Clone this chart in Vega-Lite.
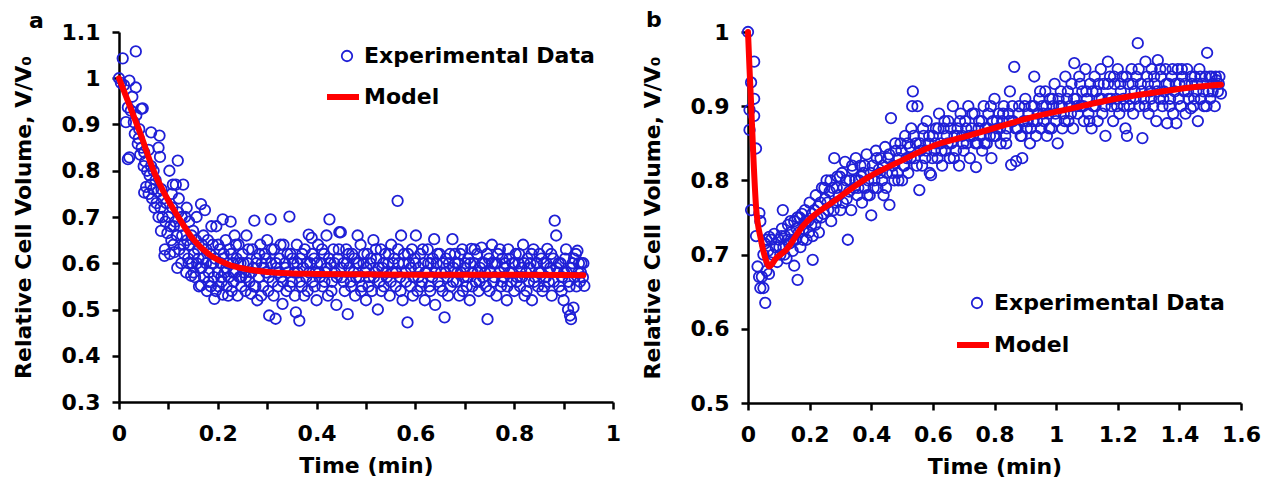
{
"$schema": "https://vega.github.io/schema/vega-lite/v6.json",
"padding": {"left": 12, "top": 9, "right": 0, "bottom": 0},
"background": "white",
"config": {
 "font": "DejaVu Sans",
 "view": {"stroke": null},
 "axis": {"domainColor": "black", "domainWidth": 2.5, "tickColor": "black", "tickWidth": 2.5, "tickSize": 7, "grid": false, "labelFont": "DejaVu Sans", "labelFontWeight": "bold", "labelFontSize": 22, "labelColor": "black", "titleFont": "DejaVu Sans", "titleFontWeight": "bold", "titleFontSize": 22, "titleColor": "black", "format": "~g", "labelFlush": false, "labelOverlap": false, "labelBound": false},
 "axisX": {"labelPadding": 14, "titlePadding": 11},
 "axisY": {"labelPadding": 12, "titlePadding": 26},
 "legend": {"orient": "none", "title": null, "labelFontSize": 22, "labelFontWeight": "bold", "labelColor": "black", "labelFont": "DejaVu Sans", "padding": 0, "labelLimit": 400},
 "title": {"fontSize": 22, "fontWeight": "bold", "font": "DejaVu Sans", "anchor": "start", "frame": "bounds", "color": "black"},
 "concat": {"spacing": 20}
},
"datasets": {
 "a": [
{"t":0,"v":1.0},{"t":0.004,"v":0.99},{"t":0.0075,"v":1.043},{"t":0.01,"v":0.985},{"t":0.014,"v":0.905},{"t":0.018,"v":0.937},{"t":0.018,"v":0.825},{"t":0.021,"v":0.995},{"t":0.021,"v":0.829},{"t":0.024,"v":0.93},{"t":0.027,"v":0.96},{"t":0.03,"v":0.905},{"t":0.032,"v":0.88},{"t":0.034,"v":1.058},{"t":0.034,"v":0.98},{"t":0.035,"v":0.92},{"t":0.038,"v":0.858},{"t":0.04,"v":0.87},{"t":0.041,"v":0.89},{"t":0.043,"v":0.835},{"t":0.045,"v":0.934},{"t":0.046,"v":0.85},{"t":0.048,"v":0.935},{"t":0.05,"v":0.81},{"t":0.051,"v":0.84},{"t":0.051,"v":0.753},{"t":0.053,"v":0.82},{"t":0.055,"v":0.765},{"t":0.057,"v":0.8},{"t":0.06,"v":0.75},{"t":0.06,"v":0.845},{"t":0.062,"v":0.79},{"t":0.064,"v":0.77},{"t":0.065,"v":0.883},{"t":0.065,"v":0.81},{"t":0.067,"v":0.74},{"t":0.069,"v":0.76},{"t":0.07,"v":0.8},{"t":0.072,"v":0.72},{"t":0.074,"v":0.78},{"t":0.076,"v":0.73},{"t":0.078,"v":0.755},{"t":0.08,"v":0.85},{"t":0.08,"v":0.7},{"t":0.082,"v":0.876},{"t":0.083,"v":0.83},{"t":0.084,"v":0.72},{"t":0.085,"v":0.67},{"t":0.086,"v":0.76},{"t":0.088,"v":0.7},{"t":0.09,"v":0.74},{"t":0.092,"v":0.616},{"t":0.093,"v":0.63},{"t":0.094,"v":0.69},{"t":0.096,"v":0.73},{"t":0.098,"v":0.665},{"t":0.1,"v":0.7},{"t":0.102,"v":0.8},{"t":0.104,"v":0.68},{"t":0.106,"v":0.65},{"t":0.108,"v":0.72},{"t":0.109,"v":0.77},{"t":0.11,"v":0.64},{"t":0.112,"v":0.624},{"t":0.114,"v":0.69},{"t":0.115,"v":0.77},{"t":0.117,"v":0.66},{"t":0.119,"v":0.822},{"t":0.12,"v":0.71},{"t":0.122,"v":0.63},{"t":0.124,"v":0.68},{"t":0.126,"v":0.6},{"t":0.128,"v":0.66},{"t":0.13,"v":0.77},{"t":0.132,"v":0.62},{"t":0.134,"v":0.7},{"t":0.136,"v":0.58},{"t":0.138,"v":0.65},{"t":0.14,"v":0.61},{"t":0.142,"v":0.69},{"t":0.144,"v":0.64},{"t":0.146,"v":0.573},{"t":0.148,"v":0.6},{"t":0.15,"v":0.67},{"t":0.152,"v":0.62},{"t":0.154,"v":0.57},{"t":0.156,"v":0.65},{"t":0.158,"v":0.6},{"t":0.16,"v":0.63},{"t":0.162,"v":0.55},{"t":0.164,"v":0.59},{"t":0.166,"v":0.728},{"t":0.166,"v":0.552},{"t":0.168,"v":0.64},{"t":0.17,"v":0.61},{"t":0.172,"v":0.57},{"t":0.174,"v":0.715},{"t":0.176,"v":0.6},{"t":0.178,"v":0.54},{"t":0.18,"v":0.65},{"t":0.182,"v":0.58},{"t":0.184,"v":0.62},{"t":0.186,"v":0.55},{"t":0.188,"v":0.6},{"t":0.19,"v":0.64},{"t":0.192,"v":0.57},{"t":0.193,"v":0.523},{"t":0.195,"v":0.61},{"t":0.197,"v":0.68},{"t":0.2,"v":0.58},{"t":0.202,"v":0.55},{"t":0.204,"v":0.63},{"t":0.206,"v":0.6},{"t":0.208,"v":0.56},{"t":0.21,"v":0.695},{"t":0.21,"v":0.532},{"t":0.212,"v":0.62},{"t":0.214,"v":0.58},{"t":0.216,"v":0.65},{"t":0.218,"v":0.55},{"t":0.22,"v":0.6},{"t":0.222,"v":0.57},{"t":0.224,"v":0.63},{"t":0.226,"v":0.69},{"t":0.228,"v":0.54},{"t":0.23,"v":0.6},{"t":0.232,"v":0.56},{"t":0.234,"v":0.66},{"t":0.236,"v":0.58},{"t":0.238,"v":0.61},{"t":0.24,"v":0.53},{"t":0.242,"v":0.64},{"t":0.244,"v":0.57},{"t":0.246,"v":0.6},{"t":0.248,"v":0.55},
{"t":0.25,"v":0.62},{"t":0.253,"v":0.58},{"t":0.256,"v":0.54},{"t":0.258,"v":0.66},{"t":0.261,"v":0.6},{"t":0.264,"v":0.56},{"t":0.267,"v":0.534},{"t":0.27,"v":0.63},{"t":0.272,"v":0.59},{"t":0.274,"v":0.692},{"t":0.276,"v":0.55},{"t":0.279,"v":0.61},{"t":0.28,"v":0.52},{"t":0.283,"v":0.57},{"t":0.286,"v":0.64},{"t":0.289,"v":0.6},{"t":0.292,"v":0.55},{"t":0.295,"v":0.62},{"t":0.298,"v":0.58},{"t":0.3,"v":0.65},{"t":0.302,"v":0.54},{"t":0.304,"v":0.487},{"t":0.307,"v":0.695},{"t":0.308,"v":0.6},{"t":0.311,"v":0.56},{"t":0.314,"v":0.63},{"t":0.317,"v":0.48},{"t":0.319,"v":0.59},{"t":0.322,"v":0.55},{"t":0.325,"v":0.61},{"t":0.328,"v":0.57},{"t":0.331,"v":0.512},{"t":0.333,"v":0.64},{"t":0.336,"v":0.6},{"t":0.339,"v":0.54},{"t":0.342,"v":0.58},{"t":0.345,"v":0.701},{"t":0.347,"v":0.62},{"t":0.35,"v":0.56},{"t":0.353,"v":0.6},{"t":0.356,"v":0.53},{"t":0.358,"v":0.494},{"t":0.36,"v":0.64},{"t":0.362,"v":0.58},{"t":0.365,"v":0.476},{"t":0.367,"v":0.61},{"t":0.37,"v":0.55},{"t":0.373,"v":0.59},{"t":0.376,"v":0.63},{"t":0.379,"v":0.57},{"t":0.382,"v":0.54},{"t":0.384,"v":0.662},{"t":0.387,"v":0.6},{"t":0.39,"v":0.655},{"t":0.392,"v":0.56},{"t":0.395,"v":0.61},{"t":0.398,"v":0.58},{"t":0.4,"v":0.52},{"t":0.403,"v":0.64},{"t":0.406,"v":0.57},{"t":0.409,"v":0.6},{"t":0.412,"v":0.55},{"t":0.415,"v":0.62},{"t":0.418,"v":0.58},{"t":0.42,"v":0.66},{"t":0.423,"v":0.53},{"t":0.426,"v":0.695},{"t":0.428,"v":0.6},{"t":0.431,"v":0.56},{"t":0.434,"v":0.63},{"t":0.437,"v":0.58},{"t":0.44,"v":0.51},{"t":0.443,"v":0.61},{"t":0.446,"v":0.667},{"t":0.449,"v":0.667},{"t":0.451,"v":0.57},{"t":0.454,"v":0.6},{"t":0.457,"v":0.54},{"t":0.46,"v":0.63},{"t":0.463,"v":0.49},{"t":0.466,"v":0.59},{"t":0.469,"v":0.56},{"t":0.472,"v":0.62},{"t":0.475,"v":0.58},{"t":0.478,"v":0.53},{"t":0.481,"v":0.6},{"t":0.483,"v":0.66},{"t":0.486,"v":0.57},{"t":0.489,"v":0.64},{"t":0.492,"v":0.55},{"t":0.495,"v":0.6},{"t":0.498,"v":0.58},{"t":0.5,"v":0.52},{"t":0.503,"v":0.62},{"t":0.506,"v":0.57},{"t":0.509,"v":0.6},{"t":0.512,"v":0.54},{"t":0.515,"v":0.65},{"t":0.518,"v":0.58},{"t":0.521,"v":0.61},{"t":0.524,"v":0.5},{"t":0.527,"v":0.56},{"t":0.53,"v":0.63},{"t":0.533,"v":0.59},{"t":0.536,"v":0.55},{"t":0.539,"v":0.62},{"t":0.542,"v":0.57},{"t":0.545,"v":0.6},{"t":0.548,"v":0.53},{"t":0.551,"v":0.64},{"t":0.554,"v":0.58},{"t":0.557,"v":0.61},{"t":0.56,"v":0.55},{"t":0.564,"v":0.735},{"t":0.566,"v":0.6},{"t":0.569,"v":0.57},{"t":0.571,"v":0.66},{"t":0.574,"v":0.52},{"t":0.577,"v":0.62},{"t":0.58,"v":0.58},{"t":0.584,"v":0.472},{"t":0.587,"v":0.6},{"t":0.59,"v":0.55},{"t":0.593,"v":0.63},{"t":0.596,"v":0.57},{"t":0.599,"v":0.61},{"t":0.601,"v":0.66},{"t":0.604,"v":0.54},{"t":0.607,"v":0.59},{"t":0.61,"v":0.62},{"t":0.613,"v":0.56},{"t":0.616,"v":0.6},{"t":0.619,"v":0.52},{"t":0.622,"v":0.58},{"t":0.625,"v":0.63},{"t":0.628,"v":0.55},{"t":0.631,"v":0.6},{"t":0.634,"v":0.57},{"t":0.638,"v":0.652},{"t":0.64,"v":0.51},{"t":0.643,"v":0.6},{"t":0.646,"v":0.56},{"t":0.649,"v":0.62},{"t":0.652,"v":0.58},{"t":0.655,"v":0.54},{"t":0.659,"v":0.483},{"t":0.662,"v":0.61},{"t":0.665,"v":0.57},{"t":0.668,"v":0.6},{"t":0.671,"v":0.55},{"t":0.675,"v":0.652},{"t":0.677,"v":0.59},{"t":0.68,"v":0.62},{"t":0.683,"v":0.56},{"t":0.686,"v":0.6},{"t":0.689,"v":0.53},{"t":0.692,"v":0.58},{"t":0.695,"v":0.63},{"t":0.698,"v":0.57},{"t":0.701,"v":0.6},{"t":0.704,"v":0.55},{"t":0.707,"v":0.61},{"t":0.71,"v":0.52},{"t":0.713,"v":0.631},{"t":0.716,"v":0.58},{"t":0.719,"v":0.6},{"t":0.722,"v":0.56},{"t":0.725,"v":0.62},{"t":0.728,"v":0.54},{"t":0.731,"v":0.59},{"t":0.734,"v":0.634},{"t":0.737,"v":0.57},{"t":0.74,"v":0.6},{"t":0.743,"v":0.55},{"t":0.746,"v":0.479},{"t":0.749,"v":0.61},{"t":0.752,"v":0.58},{"t":0.755,"v":0.64},{"t":0.758,"v":0.56},{"t":0.761,"v":0.6},{"t":0.764,"v":0.53},{"t":0.767,"v":0.62},{"t":0.77,"v":0.58},{"t":0.773,"v":0.55},{"t":0.776,"v":0.61},{"t":0.779,"v":0.57},{"t":0.782,"v":0.6},{"t":0.785,"v":0.52},{"t":0.788,"v":0.63},{"t":0.791,"v":0.58},{"t":0.794,"v":0.56},{"t":0.797,"v":0.6},{"t":0.8,"v":0.54},{"t":0.803,"v":0.62},{"t":0.806,"v":0.57},{"t":0.809,"v":0.6},{"t":0.812,"v":0.55},{"t":0.815,"v":0.59},{"t":0.818,"v":0.64},{"t":0.821,"v":0.53},{"t":0.824,"v":0.58},{"t":0.827,"v":0.61},{"t":0.83,"v":0.56},{"t":0.833,"v":0.6},{"t":0.836,"v":0.52},{"t":0.839,"v":0.63},{"t":0.842,"v":0.57},{"t":0.845,"v":0.6},{"t":0.848,"v":0.55},{"t":0.851,"v":0.62},{"t":0.854,"v":0.58},{"t":0.857,"v":0.54},{"t":0.86,"v":0.6},{"t":0.864,"v":0.57},{"t":0.867,"v":0.631},{"t":0.87,"v":0.56},{"t":0.873,"v":0.59},{"t":0.876,"v":0.53},{"t":0.879,"v":0.61},{"t":0.882,"v":0.692},{"t":0.885,"v":0.66},{"t":0.888,"v":0.58},{"t":0.891,"v":0.55},{"t":0.894,"v":0.6},{"t":0.897,"v":0.57},{"t":0.9,"v":0.52},{"t":0.903,"v":0.61},{"t":0.906,"v":0.58},{"t":0.909,"v":0.5},{"t":0.912,"v":0.55},{"t":0.913,"v":0.487},{"t":0.915,"v":0.479},{"t":0.918,"v":0.6},{"t":0.92,"v":0.504},{"t":0.922,"v":0.57},{"t":0.925,"v":0.62},{"t":0.928,"v":0.627},{"t":0.93,"v":0.58},{"t":0.933,"v":0.56},{"t":0.936,"v":0.6},{"t":0.939,"v":0.57},{"t":0.942,"v":0.551},
{"t":0.103,"v":0.62},{"t":0.107,"v":0.75},{"t":0.111,"v":0.68},{"t":0.118,"v":0.59},{"t":0.121,"v":0.74},{"t":0.127,"v":0.7},{"t":0.131,"v":0.64},{"t":0.137,"v":0.72},{"t":0.141,"v":0.6},{"t":0.147,"v":0.66},{"t":0.151,"v":0.58},{"t":0.157,"v":0.7},{"t":0.161,"v":0.61},{"t":0.167,"v":0.59},{"t":0.171,"v":0.66},{"t":0.177,"v":0.63},{"t":0.181,"v":0.56},{"t":0.187,"v":0.68},{"t":0.191,"v":0.6},{"t":0.196,"v":0.54},{"t":0.201,"v":0.64},{"t":0.207,"v":0.57},{"t":0.211,"v":0.61},{"t":0.217,"v":0.59},{"t":0.221,"v":0.53},{"t":0.227,"v":0.62},{"t":0.231,"v":0.58},{"t":0.237,"v":0.64},{"t":0.241,"v":0.6},{"t":0.247,"v":0.57},{"t":0.252,"v":0.6},{"t":0.257,"v":0.57},{"t":0.262,"v":0.63},{"t":0.268,"v":0.58},{"t":0.273,"v":0.55},{"t":0.278,"v":0.6},{"t":0.284,"v":0.62},{"t":0.288,"v":0.53},{"t":0.293,"v":0.59},{"t":0.297,"v":0.61},{"t":0.303,"v":0.57},{"t":0.309,"v":0.63},{"t":0.313,"v":0.53},{"t":0.318,"v":0.6},{"t":0.323,"v":0.58},{"t":0.327,"v":0.64},{"t":0.332,"v":0.56},{"t":0.337,"v":0.59},{"t":0.341,"v":0.62},{"t":0.346,"v":0.55},{"t":0.351,"v":0.61},{"t":0.355,"v":0.58},{"t":0.361,"v":0.6},{"t":0.366,"v":0.56},{"t":0.371,"v":0.62},{"t":0.375,"v":0.53},{"t":0.38,"v":0.6},{"t":0.385,"v":0.58},{"t":0.391,"v":0.62},{"t":0.396,"v":0.55},{"t":0.401,"v":0.6},{"t":0.405,"v":0.58},{"t":0.411,"v":0.63},{"t":0.416,"v":0.56},{"t":0.421,"v":0.59},{"t":0.425,"v":0.61},{"t":0.43,"v":0.54},{"t":0.436,"v":0.6},{"t":0.441,"v":0.57},{"t":0.445,"v":0.63},{"t":0.45,"v":0.59},{"t":0.455,"v":0.56},{"t":0.461,"v":0.6},{"t":0.465,"v":0.62},{"t":0.47,"v":0.55},{"t":0.476,"v":0.61},{"t":0.48,"v":0.57},{"t":0.485,"v":0.6},{"t":0.49,"v":0.54},{"t":0.496,"v":0.62},{"t":0.501,"v":0.59},{"t":0.505,"v":0.55},{"t":0.51,"v":0.61},{"t":0.516,"v":0.57},{"t":0.52,"v":0.63},{"t":0.525,"v":0.59},{"t":0.531,"v":0.54},{"t":0.535,"v":0.6},{"t":0.54,"v":0.58},{"t":0.546,"v":0.62},{"t":0.55,"v":0.56},{"t":0.555,"v":0.6},{"t":0.561,"v":0.58},{"t":0.565,"v":0.63},{"t":0.57,"v":0.54},{"t":0.576,"v":0.6},{"t":0.581,"v":0.56},{"t":0.585,"v":0.62},{"t":0.591,"v":0.59},{"t":0.595,"v":0.53},{"t":0.6,"v":0.6},{"t":0.606,"v":0.57},{"t":0.611,"v":0.55},{"t":0.615,"v":0.63},{"t":0.62,"v":0.58},{"t":0.626,"v":0.6},{"t":0.63,"v":0.54},{"t":0.635,"v":0.61},{"t":0.641,"v":0.58},{"t":0.645,"v":0.62},{"t":0.65,"v":0.55},{"t":0.656,"v":0.6},{"t":0.661,"v":0.58},{"t":0.666,"v":0.53},{"t":0.67,"v":0.62},{"t":0.676,"v":0.56},{"t":0.681,"v":0.6},{"t":0.685,"v":0.58},{"t":0.691,"v":0.62},{"t":0.696,"v":0.54},{"t":0.7,"v":0.59},{"t":0.706,"v":0.57},{"t":0.711,"v":0.6},{"t":0.715,"v":0.55},{"t":0.72,"v":0.63},{"t":0.726,"v":0.58},{"t":0.73,"v":0.56},{"t":0.735,"v":0.6},{"t":0.741,"v":0.58},{"t":0.745,"v":0.62},{"t":0.75,"v":0.54},{"t":0.756,"v":0.6},{"t":0.76,"v":0.57},{"t":0.765,"v":0.6},{"t":0.771,"v":0.63},{"t":0.775,"v":0.56},{"t":0.78,"v":0.59},{"t":0.786,"v":0.55},{"t":0.79,"v":0.61},{"t":0.795,"v":0.58},{"t":0.801,"v":0.6},{"t":0.805,"v":0.56},{"t":0.81,"v":0.62},{"t":0.816,"v":0.57},{"t":0.82,"v":0.6},{"t":0.825,"v":0.54},{"t":0.831,"v":0.59},{"t":0.835,"v":0.62},{"t":0.84,"v":0.56},{"t":0.846,"v":0.6},{"t":0.85,"v":0.58},{"t":0.855,"v":0.61},{"t":0.861,"v":0.55},{"t":0.865,"v":0.6},{"t":0.871,"v":0.58},{"t":0.875,"v":0.62},{"t":0.88,"v":0.56},{"t":0.886,"v":0.59},{"t":0.89,"v":0.6},{"t":0.896,"v":0.54},{"t":0.901,"v":0.58},{"t":0.905,"v":0.63},{"t":0.91,"v":0.56},{"t":0.916,"v":0.59},{"t":0.921,"v":0.61},{"t":0.926,"v":0.55},{"t":0.931,"v":0.6},{"t":0.935,"v":0.58},{"t":0.94,"v":0.6}
 ],
 "aModel": [
{"t":0,"v":1.0},{"t":0.02,"v":0.945},{"t":0.045,"v":0.875},{"t":0.07,"v":0.8},{"t":0.09,"v":0.755},{"t":0.12,"v":0.7},{"t":0.15,"v":0.652},{"t":0.185,"v":0.617},{"t":0.22,"v":0.598},{"t":0.26,"v":0.587},{"t":0.3,"v":0.581},{"t":0.35,"v":0.578},{"t":0.4,"v":0.577},{"t":0.5,"v":0.576},{"t":0.6,"v":0.575},{"t":0.7,"v":0.575},{"t":0.8,"v":0.575},{"t":0.94,"v":0.574}
 ],
 "b": [
{"t":0,"v":1.0},{"t":0.02,"v":0.96},{"t":0.01,"v":0.932},{"t":0.02,"v":0.91},{"t":0.005,"v":0.895},{"t":0.02,"v":0.887},{"t":0.005,"v":0.868},{"t":0.026,"v":0.843},{"t":0.01,"v":0.76},{"t":0.037,"v":0.756},{"t":0.04,"v":0.745},{"t":0.026,"v":0.725},{"t":0.069,"v":0.724},{"t":0.031,"v":0.684},{"t":0.036,"v":0.67},{"t":0.045,"v":0.67},{"t":0.04,"v":0.655},{"t":0.05,"v":0.655},{"t":0.056,"v":0.635},{"t":0.06,"v":0.678},{"t":0.068,"v":0.674},{"t":0.113,"v":0.76},{"t":0.161,"v":0.666},{"t":0.21,"v":0.693},{"t":0.15,"v":0.685},{"t":0.324,"v":0.72},
{"t":0.05,"v":0.7},{"t":0.055,"v":0.715},{"t":0.06,"v":0.72},{"t":0.065,"v":0.705},{"t":0.07,"v":0.69},{"t":0.075,"v":0.72},{"t":0.08,"v":0.7},{"t":0.085,"v":0.728},{"t":0.09,"v":0.71},{"t":0.095,"v":0.69},{"t":0.1,"v":0.72},{"t":0.105,"v":0.7},{"t":0.11,"v":0.735},{"t":0.115,"v":0.71},{"t":0.12,"v":0.725},{"t":0.125,"v":0.695},{"t":0.13,"v":0.74},{"t":0.135,"v":0.715},{"t":0.14,"v":0.73},{"t":0.145,"v":0.705},{"t":0.15,"v":0.745},{"t":0.155,"v":0.72},{"t":0.16,"v":0.75},{"t":0.165,"v":0.73},{"t":0.17,"v":0.71},{"t":0.175,"v":0.755},{"t":0.18,"v":0.735},{"t":0.185,"v":0.76},{"t":0.19,"v":0.72},{"t":0.195,"v":0.745},{"t":0.2,"v":0.77},{"t":0.205,"v":0.74},{"t":0.21,"v":0.725},{"t":0.215,"v":0.76},{"t":0.22,"v":0.78},{"t":0.225,"v":0.75},{"t":0.23,"v":0.73},{"t":0.235,"v":0.77},{"t":0.24,"v":0.79},{"t":0.245,"v":0.755},{"t":0.25,"v":0.775},{"t":0.255,"v":0.8},{"t":0.26,"v":0.76},{"t":0.265,"v":0.785},{"t":0.27,"v":0.745},{"t":0.275,"v":0.79},{"t":0.28,"v":0.83},{"t":0.285,"v":0.77},{"t":0.29,"v":0.805},{"t":0.295,"v":0.78},{"t":0.3,"v":0.76},{"t":0.305,"v":0.81},{"t":0.31,"v":0.79},{"t":0.315,"v":0.825},{"t":0.32,"v":0.775},{"t":0.33,"v":0.8},{"t":0.335,"v":0.76},{"t":0.34,"v":0.815},{"t":0.345,"v":0.79},{"t":0.35,"v":0.83},{"t":0.355,"v":0.78},{"t":0.36,"v":0.8},{"t":0.365,"v":0.82},{"t":0.37,"v":0.77},{"t":0.375,"v":0.81},{"t":0.38,"v":0.79},{"t":0.385,"v":0.835},{"t":0.39,"v":0.8},{"t":0.395,"v":0.78},{"t":0.4,"v":0.753},{"t":0.405,"v":0.82},{"t":0.41,"v":0.8},{"t":0.415,"v":0.84},{"t":0.42,"v":0.79},{"t":0.425,"v":0.815},{"t":0.43,"v":0.83},{"t":0.435,"v":0.8},{"t":0.44,"v":0.78},{"t":0.445,"v":0.845},{"t":0.45,"v":0.81},{"t":0.455,"v":0.83},{"t":0.459,"v":0.767},{"t":0.464,"v":0.884},{"t":0.47,"v":0.82},{"t":0.475,"v":0.8},{"t":0.48,"v":0.84},{"t":0.485,"v":0.81},{"t":0.49,"v":0.83},{"t":0.495,"v":0.85},{"t":0.5,"v":0.8},{"t":0.505,"v":0.82},{"t":0.51,"v":0.86},{"t":0.515,"v":0.83},{"t":0.52,"v":0.81},{"t":0.525,"v":0.845},{"t":0.53,"v":0.87},{"t":0.533,"v":0.9},{"t":0.535,"v":0.92},{"t":0.54,"v":0.83},{"t":0.545,"v":0.85},{"t":0.55,"v":0.9},{"t":0.556,"v":0.787},{"t":0.56,"v":0.84},{"t":0.565,"v":0.82},{"t":0.57,"v":0.86},{"t":0.575,"v":0.83},{"t":0.58,"v":0.88},{"t":0.585,"v":0.85},{"t":0.59,"v":0.81},{"t":0.594,"v":0.807},{"t":0.6,"v":0.86},{"t":0.605,"v":0.84},{"t":0.61,"v":0.87},{"t":0.615,"v":0.83},{"t":0.62,"v":0.89},{"t":0.625,"v":0.85},{"t":0.63,"v":0.82},{"t":0.635,"v":0.87},{"t":0.64,"v":0.84},{"t":0.645,"v":0.86},{"t":0.65,"v":0.88},{"t":0.655,"v":0.83},{"t":0.66,"v":0.85},{"t":0.665,"v":0.9},{"t":0.67,"v":0.86},{"t":0.675,"v":0.84},{"t":0.68,"v":0.87},{"t":0.685,"v":0.82},{"t":0.69,"v":0.89},{"t":0.695,"v":0.86},{"t":0.7,"v":0.84},{"t":0.705,"v":0.88},{"t":0.71,"v":0.85},{"t":0.715,"v":0.9},{"t":0.72,"v":0.83},{"t":0.725,"v":0.87},{"t":0.73,"v":0.86},{"t":0.735,"v":0.89},{"t":0.74,"v":0.818},{"t":0.745,"v":0.85},{"t":0.75,"v":0.88},{"t":0.755,"v":0.86},{"t":0.76,"v":0.84},{"t":0.765,"v":0.9},{"t":0.77,"v":0.87},{"t":0.775,"v":0.85},{"t":0.78,"v":0.89},{"t":0.785,"v":0.86},{"t":0.79,"v":0.83},{"t":0.795,"v":0.88},{"t":0.8,"v":0.91},{"t":0.805,"v":0.86},{"t":0.81,"v":0.87},{"t":0.815,"v":0.89},{"t":0.82,"v":0.85},{"t":0.825,"v":0.88},{"t":0.83,"v":0.9},{"t":0.835,"v":0.86},{"t":0.84,"v":0.87},{"t":0.845,"v":0.89},{"t":0.85,"v":0.92},{"t":0.854,"v":0.821},{"t":0.86,"v":0.88},{"t":0.864,"v":0.953},{"t":0.87,"v":0.826},{"t":0.875,"v":0.87},{"t":0.88,"v":0.9},{"t":0.885,"v":0.86},{"t":0.89,"v":0.83},{"t":0.895,"v":0.88},{"t":0.9,"v":0.91},{"t":0.905,"v":0.87},{"t":0.91,"v":0.89},{"t":0.915,"v":0.85},{"t":0.92,"v":0.9},{"t":0.925,"v":0.88},{"t":0.929,"v":0.94},{"t":0.935,"v":0.86},{"t":0.94,"v":0.89},{"t":0.945,"v":0.91},{"t":0.95,"v":0.87},{"t":0.955,"v":0.9},{"t":0.96,"v":0.88},{"t":0.965,"v":0.92},{"t":0.97,"v":0.86},{"t":0.975,"v":0.89},{"t":0.98,"v":0.91},{"t":0.985,"v":0.87},{"t":0.99,"v":0.9},{"t":0.995,"v":0.93},{"t":1.0,"v":0.88},{"t":1.005,"v":0.85},{"t":1.01,"v":0.9},{"t":1.015,"v":0.92},{"t":1.02,"v":0.87},{"t":1.025,"v":0.89},{"t":1.03,"v":0.94},{"t":1.035,"v":0.91},{"t":1.04,"v":0.88},{"t":1.045,"v":0.9},{"t":1.05,"v":0.93},{"t":1.055,"v":0.87},{"t":1.059,"v":0.958},{"t":1.065,"v":0.91},{"t":1.07,"v":0.89},{"t":1.075,"v":0.94},{"t":1.08,"v":0.9},{"t":1.085,"v":0.92},{"t":1.09,"v":0.88},{"t":1.095,"v":0.95},{"t":1.1,"v":0.91},{"t":1.105,"v":0.89},{"t":1.11,"v":0.93},{"t":1.115,"v":0.87},{"t":1.12,"v":0.9},{"t":1.125,"v":0.94},{"t":1.13,"v":0.92},{"t":1.135,"v":0.88},{"t":1.14,"v":0.91},{"t":1.145,"v":0.95},{"t":1.15,"v":0.89},{"t":1.155,"v":0.93},{"t":1.16,"v":0.86},{"t":1.168,"v":0.96},{"t":1.17,"v":0.91},{"t":1.175,"v":0.94},{"t":1.18,"v":0.9},{"t":1.185,"v":0.88},{"t":1.19,"v":0.93},{"t":1.195,"v":0.91},{"t":1.2,"v":0.95},{"t":1.205,"v":0.89},{"t":1.21,"v":0.92},{"t":1.215,"v":0.94},{"t":1.22,"v":0.9},{"t":1.225,"v":0.87},{"t":1.23,"v":0.86},{"t":1.235,"v":0.93},{"t":1.24,"v":0.91},{"t":1.245,"v":0.95},{"t":1.25,"v":0.89},{"t":1.255,"v":0.92},{"t":1.26,"v":0.94},{"t":1.265,"v":0.985},{"t":1.27,"v":0.9},{"t":1.275,"v":0.93},{"t":1.28,"v":0.857},{"t":1.285,"v":0.91},{"t":1.29,"v":0.96},{"t":1.295,"v":0.94},{"t":1.3,"v":0.89},{"t":1.305,"v":0.92},{"t":1.31,"v":0.95},{"t":1.315,"v":0.9},{"t":1.32,"v":0.93},{"t":1.325,"v":0.88},{"t":1.33,"v":0.962},{"t":1.335,"v":0.91},{"t":1.34,"v":0.94},{"t":1.345,"v":0.9},{"t":1.35,"v":0.92},{"t":1.355,"v":0.95},{"t":1.36,"v":0.877},{"t":1.365,"v":0.93},{"t":1.37,"v":0.91},{"t":1.375,"v":0.94},{"t":1.38,"v":0.89},{"t":1.385,"v":0.92},{"t":1.39,"v":0.877},{"t":1.395,"v":0.95},{"t":1.4,"v":0.93},{"t":1.405,"v":0.9},{"t":1.41,"v":0.94},{"t":1.415,"v":0.92},{"t":1.42,"v":0.89},{"t":1.425,"v":0.95},{"t":1.43,"v":0.91},{"t":1.437,"v":0.897},{"t":1.44,"v":0.93},{"t":1.445,"v":0.9},{"t":1.45,"v":0.94},{"t":1.455,"v":0.92},{"t":1.46,"v":0.88},{"t":1.465,"v":0.95},{"t":1.47,"v":0.91},{"t":1.475,"v":0.93},{"t":1.48,"v":0.9},{"t":1.485,"v":0.94},{"t":1.49,"v":0.972},{"t":1.495,"v":0.92},{"t":1.5,"v":0.91},{"t":1.505,"v":0.94},{"t":1.51,"v":0.93},{"t":1.515,"v":0.9},{"t":1.52,"v":0.935},{"t":1.525,"v":0.92},{"t":1.53,"v":0.94},{"t":1.535,"v":0.917},
{"t":0.102,"v":0.71},{"t":0.108,"v":0.725},{"t":0.118,"v":0.7},{"t":0.128,"v":0.72},{"t":0.138,"v":0.745},{"t":0.148,"v":0.72},{"t":0.158,"v":0.735},{"t":0.168,"v":0.75},{"t":0.178,"v":0.72},{"t":0.188,"v":0.745},{"t":0.198,"v":0.73},{"t":0.208,"v":0.755},{"t":0.218,"v":0.74},{"t":0.228,"v":0.765},{"t":0.238,"v":0.75},{"t":0.248,"v":0.79},{"t":0.258,"v":0.77},{"t":0.268,"v":0.8},{"t":0.278,"v":0.76},{"t":0.288,"v":0.79},{"t":0.298,"v":0.805},{"t":0.308,"v":0.77},{"t":0.318,"v":0.8},{"t":0.328,"v":0.785},{"t":0.338,"v":0.82},{"t":0.348,"v":0.8},{"t":0.358,"v":0.79},{"t":0.368,"v":0.805},{"t":0.378,"v":0.82},{"t":0.388,"v":0.78},{"t":0.398,"v":0.81},{"t":0.408,"v":0.79},{"t":0.418,"v":0.83},{"t":0.428,"v":0.81},{"t":0.438,"v":0.82},{"t":0.448,"v":0.79},{"t":0.458,"v":0.835},{"t":0.468,"v":0.81},{"t":0.478,"v":0.85},{"t":0.488,"v":0.8},{"t":0.498,"v":0.84},{"t":0.508,"v":0.82},{"t":0.518,"v":0.85},{"t":0.528,"v":0.83},{"t":0.538,"v":0.86},{"t":0.548,"v":0.82},{"t":0.558,"v":0.85},{"t":0.568,"v":0.87},{"t":0.578,"v":0.84},{"t":0.588,"v":0.86},{"t":0.598,"v":0.83},{"t":0.608,"v":0.85},{"t":0.618,"v":0.87},{"t":0.628,"v":0.84},{"t":0.638,"v":0.88},{"t":0.648,"v":0.85},{"t":0.658,"v":0.87},{"t":0.668,"v":0.83},{"t":0.678,"v":0.86},{"t":0.688,"v":0.88},{"t":0.698,"v":0.85},{"t":0.708,"v":0.87},{"t":0.718,"v":0.86},{"t":0.728,"v":0.89},{"t":0.738,"v":0.85},{"t":0.748,"v":0.87},{"t":0.758,"v":0.88},{"t":0.768,"v":0.85},{"t":0.778,"v":0.87},{"t":0.788,"v":0.9},{"t":0.798,"v":0.86},{"t":0.808,"v":0.88},{"t":0.818,"v":0.87},{"t":0.828,"v":0.89},{"t":0.838,"v":0.85},{"t":0.848,"v":0.88},{"t":0.858,"v":0.9},{"t":0.868,"v":0.87},{"t":0.878,"v":0.89},{"t":0.888,"v":0.86},{"t":0.898,"v":0.9},{"t":0.908,"v":0.88},{"t":0.918,"v":0.87},{"t":0.928,"v":0.9},{"t":0.938,"v":0.88},{"t":0.948,"v":0.92},{"t":0.958,"v":0.89},{"t":0.968,"v":0.9},{"t":0.978,"v":0.87},{"t":0.988,"v":0.91},{"t":0.998,"v":0.89},{"t":1.008,"v":0.91},{"t":1.018,"v":0.9},{"t":1.028,"v":0.88},{"t":1.038,"v":0.92},{"t":1.048,"v":0.89},{"t":1.058,"v":0.91},{"t":1.068,"v":0.9},{"t":1.078,"v":0.93},{"t":1.088,"v":0.9},{"t":1.098,"v":0.92},{"t":1.108,"v":0.88},{"t":1.118,"v":0.92},{"t":1.128,"v":0.9},{"t":1.138,"v":0.93},{"t":1.148,"v":0.91},{"t":1.158,"v":0.9},{"t":1.168,"v":0.93},{"t":1.178,"v":0.91},{"t":1.188,"v":0.94},{"t":1.198,"v":0.9},{"t":1.208,"v":0.93},{"t":1.218,"v":0.91},{"t":1.228,"v":0.94},{"t":1.238,"v":0.9},{"t":1.248,"v":0.93},{"t":1.258,"v":0.91},{"t":1.268,"v":0.95},{"t":1.278,"v":0.92},{"t":1.288,"v":0.9},{"t":1.298,"v":0.93},{"t":1.308,"v":0.91},{"t":1.318,"v":0.94},{"t":1.328,"v":0.92},{"t":1.338,"v":0.95},{"t":1.348,"v":0.91},{"t":1.358,"v":0.93},{"t":1.368,"v":0.9},{"t":1.378,"v":0.95},{"t":1.388,"v":0.93},{"t":1.398,"v":0.91},{"t":1.408,"v":0.95},{"t":1.418,"v":0.93},{"t":1.428,"v":0.92},{"t":1.438,"v":0.94},{"t":1.448,"v":0.91},{"t":1.458,"v":0.93},{"t":1.468,"v":0.94},{"t":1.478,"v":0.92},{"t":1.488,"v":0.9},{"t":1.498,"v":0.94},{"t":1.508,"v":0.92},{"t":1.518,"v":0.94},{"t":1.528,"v":0.93}
 ],
 "bModel": [
{"t":0,"v":1.0},{"t":0.005,"v":0.95},{"t":0.01,"v":0.904},{"t":0.017,"v":0.836},{"t":0.026,"v":0.765},{"t":0.042,"v":0.72},{"t":0.058,"v":0.693},{"t":0.069,"v":0.684},{"t":0.091,"v":0.695},{"t":0.123,"v":0.706},{"t":0.177,"v":0.738},{"t":0.286,"v":0.774},{"t":0.394,"v":0.805},{"t":0.5,"v":0.827},{"t":0.61,"v":0.848},{"t":0.713,"v":0.86},{"t":0.82,"v":0.873},{"t":0.929,"v":0.886},{"t":1.04,"v":0.896},{"t":1.146,"v":0.906},{"t":1.25,"v":0.914},{"t":1.362,"v":0.921},{"t":1.45,"v":0.926},{"t":1.535,"v":0.929}
 ]
},
"hconcat": [
 {
  "title": {"text": "a", "dx": 17, "offset": -12},
  "width": 494, "height": 370,
  "layer": [
   {"data": {"name": "a"},
    "mark": {"type": "point", "shape": "circle", "filled": false, "size": 110, "strokeWidth": 1.8, "opacity": 1},
    "encoding": {
     "x": {"field": "t", "type": "quantitative", "scale": {"domain": [0, 1], "nice": false, "zero": false}, "axis": {"title": "Time (min)", "values": [0, 0.1, 0.2, 0.3, 0.4, 0.5, 0.6, 0.7, 0.8, 0.9, 1], "labelExpr": "round(datum.value*10) % 2 == 0 ? datum.label : ''"}},
     "y": {"field": "v", "type": "quantitative", "scale": {"domain": [0.3, 1.1], "nice": false, "zero": false}, "axis": {"title": "Relative Cell Volume, V/V₀", "values": [0.3, 0.4, 0.5, 0.6, 0.7, 0.8, 0.9, 1, 1.1]}},
     "color": {"datum": "Experimental Data", "scale": {"domain": ["Experimental Data"], "range": ["#1f1fd6"]},
      "legend": {"legendX": 217, "legendY": 13, "symbolType": "circle", "symbolSize": 110, "symbolStrokeWidth": 1.8, "labelOffset": 6}}
    }},
   {"data": {"name": "aModel"},
    "mark": {"type": "line", "strokeWidth": 6, "interpolate": "monotone", "strokeCap": "round"},
    "encoding": {"x": {"field": "t", "type": "quantitative"}, "y": {"field": "v", "type": "quantitative"},
     "stroke": {"datum": "Model", "scale": {"domain": ["Model"], "range": ["#ff0000"]},
      "legend": {"legendX": 205, "legendY": 46, "symbolType": "stroke", "symbolSize": 1024, "symbolStrokeWidth": 6, "labelOffset": 2}}}}
  ]
 },
 {
  "title": {"text": "b", "dx": 5, "offset": -12},
  "width": 493, "height": 371,
  "layer": [
   {"data": {"name": "b"},
    "mark": {"type": "point", "shape": "circle", "filled": false, "size": 110, "strokeWidth": 1.8, "opacity": 1},
    "encoding": {
     "x": {"field": "t", "type": "quantitative", "scale": {"domain": [0, 1.6], "nice": false, "zero": false}, "axis": {"title": "Time (min)", "values": [0, 0.2, 0.4, 0.6, 0.8, 1, 1.2, 1.4, 1.6]}},
     "y": {"field": "v", "type": "quantitative", "scale": {"domain": [0.5, 1.0], "nice": false, "zero": false}, "axis": {"title": "Relative Cell Volume, V/V₀", "values": [0.5, 0.6, 0.7, 0.8, 0.9, 1]}},
     "color": {"datum": "Experimental Data", "scale": {"domain": ["Experimental Data"], "range": ["#1f1fd6"]},
      "legend": {"legendX": 218, "legendY": 260, "symbolType": "circle", "symbolSize": 110, "symbolStrokeWidth": 1.8, "labelOffset": 6}}
    }},
   {"data": {"name": "bModel"},
    "mark": {"type": "line", "strokeWidth": 6, "interpolate": "monotone", "strokeCap": "round"},
    "encoding": {"x": {"field": "t", "type": "quantitative"}, "y": {"field": "v", "type": "quantitative"},
     "stroke": {"datum": "Model", "scale": {"domain": ["Model"], "range": ["#ff0000"]},
      "legend": {"legendX": 206, "legendY": 294, "symbolType": "stroke", "symbolSize": 1024, "symbolStrokeWidth": 6, "labelOffset": 2}}}}
  ]
 }
],
"resolve": {"scale": {"color": "independent", "stroke": "independent", "x": "independent", "y": "independent"}, "legend": {"color": "independent", "stroke": "independent"}}
}
